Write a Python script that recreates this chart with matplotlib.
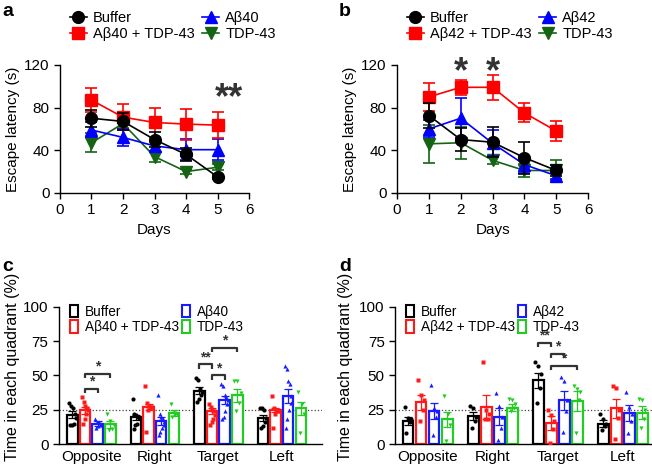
import numpy as np
import matplotlib.pyplot as plt
from matplotlib.patches import Patch

plt.rcParams['font.family'] = ['Liberation Sans', 'DejaVu Sans']

# ---- panel a / b : escape latency ----
days = [1, 2, 3, 4, 5]
a_labels = ['Buffer', 'Aβ40 + TDP-43', 'Aβ40', 'TDP-43']
a_means = {
    'Buffer': [70, 67, 50, 36, 15],
    'Aβ40 + TDP-43': [87, 71, 66, 64.5, 63.5],
    'Aβ40': [59, 52, 44, 40.5, 40.5],
    'TDP-43': [47, 65, 34, 20, 24],
}
a_errs = {
    'Buffer': [8, 8, 7, 6, 2],
    'Aβ40 + TDP-43': [11, 12.5, 14, 14.5, 12.5],
    'Aβ40': [7, 8, 5, 10, 10],
    'TDP-43': [9, 4, 5, 2, 3],
}
b_labels = ['Buffer', 'Aβ42 + TDP-43', 'Aβ42', 'TDP-43']
b_means = {
    'Buffer': [72.5, 50, 47.5, 33, 21],
    'Aβ42 + TDP-43': [90, 99, 99, 75, 58],
    'Aβ42': [60, 70, 46.5, 26.5, 16],
    'TDP-43': [46, 47, 30.5, 21, 21],
}
b_errs = {
    'Buffer': [12, 11, 14, 15, 5],
    'Aβ42 + TDP-43': [13, 7, 12, 9, 9],
    'Aβ42': [8, 19, 12, 8, 3],
    'TDP-43': [18, 15, 3, 6, 10],
}

# ---- panel c / d : time in quadrant ----
quadrants = ['Opposite', 'Right', 'Target', 'Left']
c_means = {
    'Buffer': [21.5, 19.5, 39, 19],
    'Aβ40 + TDP-43': [24.5, 27, 24, 25],
    'Aβ40': [15, 17, 32, 35],
    'TDP-43': [14.5, 22.5, 35.5, 26],
}
c_errs = {
    'Buffer': [2.5, 2, 2.5, 2.5],
    'Aβ40 + TDP-43': [2.5, 2, 2, 1.5],
    'Aβ40': [1.5, 3, 3, 5],
    'TDP-43': [2.5, 2, 4.5, 5],
}
c_points = {
    'Buffer': [[30, 28, 26, 22, 19, 15, 14, 14],
               [33, 22, 21, 20, 19, 15, 14, 11],
               [48, 47, 40, 38, 36, 33, 31],
               [26, 26, 25, 19, 16, 13, 12]],
    'Aβ40 + TDP-43': [[34, 31, 28, 26, 25, 22, 18, 15],
                      [42, 30, 28, 27, 27, 26, 25, 9],
                      [29, 27, 25, 24, 21, 18, 16, 14],
                      [35, 26, 25, 25, 24, 24, 22, 12]],
    'Aβ40': [[18, 16, 16, 15, 14, 13, 12],
             [36, 22, 20, 18, 16, 14, 12, 9, 7],
             [44, 42, 36, 34, 32, 29, 24, 20, 18],
             [57, 55, 46, 44, 35, 30, 25, 18, 12]],
    'TDP-43': [[22, 17, 14, 11, 10],
               [29, 23, 22, 21, 20],
               [46, 46, 37, 30, 24],
               [38, 29, 22, 8]],
}
d_means = {
    'Buffer': [17, 20.5, 46.5, 15],
    'Aβ42 + TDP-43': [30.5, 27, 15.5, 26],
    'Aβ42': [24, 20, 32, 22.5],
    'TDP-43': [18, 26.5, 31.5, 23],
}
d_errs = {
    'Buffer': [3, 3, 5.5, 2.5],
    'Aβ42 + TDP-43': [5.5, 9, 5, 7],
    'Aβ42': [6, 6, 7, 6],
    'TDP-43': [5.5, 2.5, 7.5, 4.5],
}
d_points = {
    'Buffer': [[27, 19, 18, 16, 8],
               [28, 26, 20, 17, 12],
               [60, 57, 51, 41, 30],
               [22, 18, 15, 13, 10]],
    'Aβ42 + TDP-43': [[47, 36, 32, 25, 17],
                      [60, 25, 22, 18, 18],
                      [25, 21, 17, 11, 1],
                      [42, 41, 25, 19, 4]],
    'Aβ42': [[43, 26, 24, 20, 7],
             [37, 28, 20, 12, 3],
             [49, 46, 32, 24, 9],
             [38, 27, 22, 17, 8]],
    'TDP-43': [[35, 22, 14, 2],
               [33, 32, 29, 26, 24],
               [42, 40, 38, 32, 8],
               [33, 32, 25, 18, 12]],
}

line_colors = ['black', '#ff0000', '#0000ff', '#146414']
bar_colors = ['black', '#ff1a1a', '#1a1aff', '#22cc22']
markers = ['o', 's', '^', 'v']
star_color = '#333333'

fig = plt.figure(figsize=(6.52, 4.67), dpi=100)


def style_axes(ax):
    for s in ['top', 'right']:
        ax.spines[s].set_visible(False)
    ax.spines['left'].set_linewidth(1.0)
    ax.spines['bottom'].set_linewidth(1.0)
    ax.tick_params(labelsize=11, width=1.0, length=4, direction='out')


def line_panel(rect, labels, means, errs, stars, star_size):
    ax = fig.add_axes(rect)
    style_axes(ax)
    handles = {}
    for k in [3, 2, 1, 0]:
        lab = labels[k]
        h = ax.errorbar(days, means[lab], yerr=errs[lab], color=line_colors[k],
                        marker=markers[k], markersize=8 if k else 8.5, lw=1.2,
                        elinewidth=1.2, capsize=4, capthick=1.2, zorder=3 + (4 - k))
        handles[k] = h
    ax.set_xlim(0, 6)
    ax.set_ylim(0, 120)
    ax.set_xticks(range(7))
    ax.set_yticks([0, 40, 80, 120])
    ax.set_xlabel('Days', fontsize=11, labelpad=4)
    ax.set_ylabel('Escape latency (s)', fontsize=11, labelpad=3)
    for x, y, t in stars:
        ax.text(x, y, t, ha='center', va='center', fontsize=star_size,
                color=star_color, fontweight='bold')
    hs = [handles[k][0] for k in range(4)]
    ax.legend(hs, labels, loc='lower left', bbox_to_anchor=(0.02, 1.14), ncol=2,
              frameon=False, fontsize=10.5, handlelength=1.2, handletextpad=0.4,
              columnspacing=0.5, labelspacing=0.15, borderaxespad=0)
    return ax


def bar_panel(rect, labels, means, errs, points, brackets, xlim, ylab_x):
    ax = fig.add_axes(rect)
    style_axes(ax)
    ax.tick_params(axis='x', length=0, pad=4)
    ax.axhline(25, ls=':', color='#444444', lw=0.9, zorder=1)
    xs = np.arange(len(quadrants))
    for k, lab in enumerate(labels):
        pos = xs + (k - 1.5) * 0.2
        ax.bar(pos, means[lab], width=0.165, facecolor='white',
               edgecolor=bar_colors[k], linewidth=1.6, zorder=2)
        ax.errorbar(pos, means[lab], yerr=errs[lab], fmt='none',
                    ecolor=bar_colors[k], elinewidth=0.9, capsize=3,
                    capthick=0.9, zorder=3)
        for i, pts in enumerate(points[lab]):
            n = len(pts)
            off = np.linspace(-0.05, 0.05, n)
            off = np.concatenate([off[::2], off[1::2][::-1]])
            ax.plot(pos[i] + off, pts, ls='none', marker=markers[k], ms=3,
                    color=bar_colors[k], mec='none', zorder=4)
    for g, k1, k2, y, t in brackets:
        x1 = g + (k1 - 1.5) * 0.2
        x2 = g + (k2 - 1.5) * 0.2
        ax.plot([x1, x1, x2, x2], [y - 3, y, y, y - 3], color=star_color,
                lw=1.6, zorder=5, solid_capstyle='butt')
        ax.text((x1 + x2) / 2, y + 0.2, t, ha='center', va='bottom',
                fontsize=10, color=star_color, fontweight='bold')
    ax.set_xlim(*xlim)
    ax.set_ylim(0, 100)
    ax.set_yticks([0, 25, 50, 75, 100])
    ax.set_xticks(xs)
    ax.set_xticklabels(quadrants, fontsize=11)
    ax.set_ylabel('Time in each quadrant (%)', fontsize=11.5)
    ax.yaxis.set_label_coords(ylab_x, 0.56)
    hs = [Patch(facecolor='white', edgecolor=c, linewidth=1.5) for c in bar_colors]
    ax.legend(hs, labels, loc='upper left', bbox_to_anchor=(0.02, 1.055), ncol=2,
              frameon=False, fontsize=9.8, handlelength=0.6, handleheight=1.0,
              handletextpad=0.5, columnspacing=0.25, labelspacing=0.1,
              borderaxespad=0)
    return ax


line_panel([0.092, 0.587, 0.290, 0.274], a_labels, a_means, a_errs,
           [(5.35, 88, '**')], 26)
line_panel([0.609, 0.587, 0.293, 0.274], b_labels, b_means, b_errs,
           [(2, 113, '*'), (3, 113, '*')], 26)

c_brackets = [(0, 1, 2, 40, '*'), (0, 1, 3, 51, '*'),
              (2, 0, 1, 58, '**'), (2, 1, 2, 50, '*'), (2, 1, 3, 70, '*')]
d_brackets = [(2, 0, 1, 73.5, '**'), (2, 1, 2, 66, '*'), (2, 1, 3, 57, '*')]
bar_panel([0.0905, 0.049, 0.404, 0.294], a_labels, c_means, c_errs, c_points,
          c_brackets, (-0.51, 3.64), -0.148)
bar_panel([0.606, 0.049, 0.394, 0.294], b_labels, d_means, d_errs, d_points,
          d_brackets, (-0.5, 3.45), -0.163)

for x, y, t in [(0.003, 0.975, 'a'), (0.52, 0.975, 'b'),
                (0.003, 0.43, 'c'), (0.52, 0.43, 'd')]:
    fig.text(x, y, t, fontsize=14, fontweight='bold', va='center')

fig.savefig('out.png', dpi=100)
